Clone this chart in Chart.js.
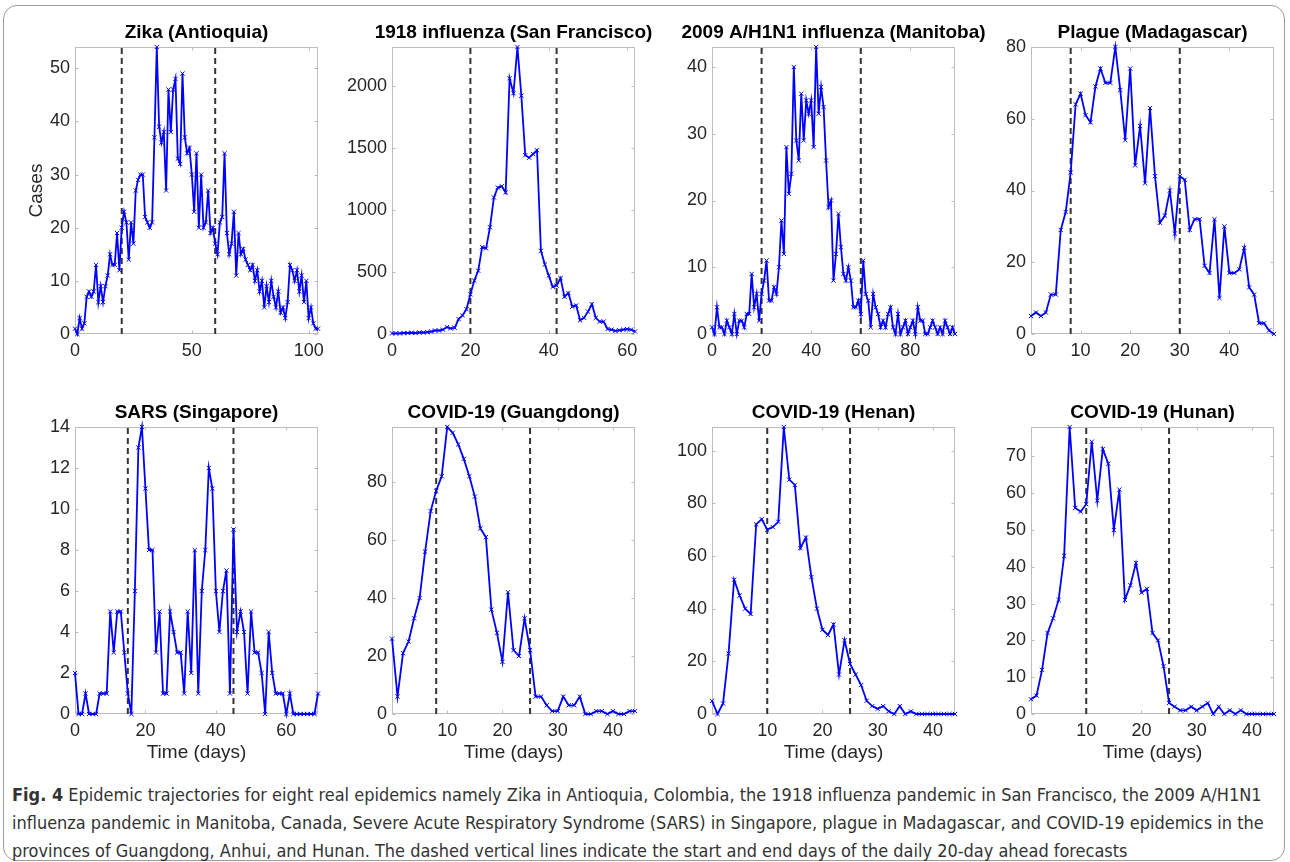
<!DOCTYPE html>
<html>
<head>
<meta charset="utf-8">
<script src="https://cdn.jsdelivr.net/npm/chart.js@4.4.1/dist/chart.umd.min.js"></script>
<style>
  html, body { margin: 0; padding: 0; background: #fff; }
  body { width: 1290px; height: 862px; position: relative; overflow: hidden; font-family: "Liberation Sans", Arial, sans-serif; }
  #frame { position: absolute; left: 3px; top: 5px; width: 1282px; height: 856px; border: 1px solid #9c9c9c; border-radius: 14px; box-sizing: border-box; }
  canvas { position: absolute; }
  .cap { position: absolute; left: 12px; white-space: nowrap; font-family: "Liberation Sans Narrow", "DejaVu Sans Condensed", "Liberation Sans", sans-serif; font-size: 17px; line-height: 20px; color: #333; transform-origin: 0 50%; }
</style>
</head>
<body>
<div id="frame"></div>

<div class="cap" style="top:785px"><b>Fig. 4</b> Epidemic trajectories for eight real epidemics namely Zika in Antioquia, Colombia, the 1918 influenza pandemic in San Francisco, the 2009 A/H1N1</div>
<div class="cap" style="top:813px">influenza pandemic in Manitoba, Canada, Severe Acute Respiratory Syndrome (SARS) in Singapore, plague in Madagascar, and COVID-19 epidemics in the</div>
<div class="cap" style="top:841px">provinces of Guangdong, Anhui, and Hunan. The dashed vertical lines indicate the start and end days of the daily 20-day ahead forecasts</div>

<script>
"use strict";

// --- daily case counts, day 0 onwards ---
const zikaCases = [1,0,3,1,2,7,8,7,8,13, 6,9,6,9,11,15,13,13,19,12, 20,23,21,14,21,17,27,29,30,30,
    22,21,20,21,37,54,39,36,38,27, 46,38,46,48,33,32,49,37,34,35, 30,23,34,20,30,20,21,27,19,20,
    17,15,21,22,34,19,15,17,23,11, 19,15,16,14,13,12,13,10,12,8, 10,5,9,6,10,7,5,8,4,5,
    3,6,13,12,10,12,8,11,6,10, 3,5,2,1,1];
const sfCases = [5,5,5,8,8,10,8,12,12,15, 20,28,28,35,55,45,50,120,150,200, 320,430,510,700,690,860,1100,1180,1190,1140,
    2060,1940,2312,1920,1440,1420,1450,1480,670,560, 470,380,390,450,300,330,220,230,110,130,
    180,240,130,100,100,40,35,25,30,35, 40,35,20];
const manitobaCases = [1,0,4,1,1,0,2,1,0,3, 0,2,2,1,3,3,9,4,6,2, 6,8,11,5,5,7,6,10,17,12,
    28,21,24,40,29,26,36,29,35,33, 35,28,43,33,37,34,26,19,20,8, 12,18,13,9,8,10,8,4,4,5,
    3,11,6,5,1,6,4,3,1,2, 1,3,4,1,0,3,0,1,2,0, 1,2,0,4,2,2,0,0,1,2, 1,0,1,0,2,1,0,1,0];
const plagueCases = [5,6,5,6,11,11,29,34,45,64, 67,61,59,69,74,70,70,80,68,54, 74,47,58,42,63,44,31,33,40,28,
    44,43,29,32,32,19,17,32,10,30, 17,17,18,24,13,11,3,3,1,0];
const sarsCases = [2,0,0,1,0,0,0,1,1,1, 5,3,5,5,3,1,0,6,13,14, 11,8,8,3,5,1,1,5,4,3,
    3,1,5,2,8,1,6,8,12,11, 6,4,6,7,1,9,4,5,4,1, 5,3,3,2,0,4,2,1,1,1, 0,1,0,0,0,0,0,0,0,1];
const guangdongCases = [26,6,21,25,33,40,56,70,77,82, 99,97,93,88,82,75,64,61,36,28,
    18,42,22,20,33,22,6,6,3,1, 1,6,3,3,6,0,0,1,1,0, 1,0,0,1,1];
const henanCases = [5,0,4,23,51,45,40,38,72,74, 70,71,73,109,89,87,63,67,52,40,
    32,30,34,15,28,19,15,11,5,3, 2,3,1,0,3,0,1,0,0,0, 0,0,0,0,0];
const hunanCases = [4,5,12,22,26,31,43,78,56,55, 57,74,58,72,68,50,61,31,35,41,
    33,34,22,20,13,3,2,1,1,2, 1,2,3,0,2,0,1,0,1,0, 0,0,0,0,0];

// --- panel titles, forecast windows (start/end day), axis limits and ticks ---
const titles = ["Zika (Antioquia)", "1918 influenza (San Francisco)", "2009 A/H1N1 influenza (Manitoba)", "Plague (Madagascar)",
    "SARS (Singapore)", "COVID-19 (Guangdong)", "COVID-19 (Henan)", "COVID-19 (Hunan)"];
const forecastWindows = [[20, 60], [20, 42], [20, 60], [8, 30], [15, 45], [8, 25], [10, 25], [10, 25]];
const xMaxes = [104, 62, 98, 49, 69, 44, 44, 44];
const yMaxes = [54, 2312, 43, 80, 14, 99, 109, 78];
const xTicks = [
    [0, 50, 100], [0, 20, 40, 60], [0, 20, 40, 60, 80], [0, 10, 20, 30, 40],
    [0, 20, 40, 60], [0, 10, 20, 30, 40], [0, 10, 20, 30, 40], [0, 10, 20, 30, 40]
];
const yTicks = [
    [0, 10, 20, 30, 40, 50], [0, 500, 1000, 1500, 2000], [0, 10, 20, 30, 40], [0, 20, 40, 60, 80],
    [0, 2, 4, 6, 8, 10, 12, 14], [0, 20, 40, 60, 80], [0, 20, 40, 60, 80, 100], [0, 10, 20, 30, 40, 50, 60, 70]
];
const series = [zikaCases, sfCases, manitobaCases, plagueCases, sarsCases, guangdongCases, henanCases, hunanCases];

const FONT = '"Liberation Sans", Arial, Helvetica, sans-serif';
const COL_LEFTS = [15, 332, 652, 971];
const ROW_TOPS = [16, 396];
const PLOT_W = 243, Y_AXIS_W = 60, RIGHT_PAD = 54;

// box, inward ticks and bold title, MATLAB style
const matlabAxes = {
    id: "matlabAxes",
    beforeDatasetsDraw(chart, args, opts) {
        const { ctx, chartArea: a, scales } = chart;
        const L = Math.round(a.left) + 0.5, R = Math.round(a.right) - 0.5;
        const T = Math.round(a.top) + 0.5, B = Math.round(a.bottom) - 0.5;
        ctx.save();
        ctx.strokeStyle = "#bdbdbd";
        ctx.lineWidth = 1;
        ctx.strokeRect(L, T, R - L, B - T);
        ctx.beginPath();
        scales.x.ticks.forEach(t => {
            const px = Math.round(scales.x.getPixelForValue(t.value)) + 0.5;
            ctx.moveTo(px, B); ctx.lineTo(px, B - 3);
            ctx.moveTo(px, T); ctx.lineTo(px, T + 3);
        });
        scales.y.ticks.forEach(t => {
            const py = Math.round(scales.y.getPixelForValue(t.value)) + 0.5;
            ctx.moveTo(L, py); ctx.lineTo(L + 3, py);
            ctx.moveTo(R, py); ctx.lineTo(R - 3, py);
        });
        ctx.stroke();
        ctx.restore();
    },
    afterDraw(chart, args, opts) {
        const { ctx, chartArea: a } = chart;
        ctx.save();
        ctx.font = "bold 19px " + FONT;
        ctx.fillStyle = "#000";
        ctx.textAlign = "center";
        ctx.textBaseline = "middle";
        ctx.fillText(opts.text, (a.left + a.right) / 2, a.top - 14);
        ctx.restore();
    }
};

series.forEach((cases, i) => {
    const row = i < 4 ? 0 : 1;
    const col = i % 4;
    const xAxisH = row === 0 ? 28 : 50;
    const canvas = document.createElement("canvas");
    canvas.width = Y_AXIS_W + PLOT_W + RIGHT_PAD;
    canvas.height = 31 + 287 + xAxisH;
    canvas.style.left = COL_LEFTS[col] + "px";
    canvas.style.top = ROW_TOPS[row] + "px";
    document.body.appendChild(canvas);

    const [start, end] = forecastWindows[i];
    const dashed = d => ({
        data: [{ x: d, y: 0 }, { x: d, y: yMaxes[i] }],
        borderColor: "#333",
        borderWidth: 2,
        borderDash: [6, 4],
        pointRadius: 0,
        order: 1
    });

    new Chart(canvas, {
        type: "line",
        data: {
            datasets: [{
                data: cases.map((v, d) => ({ x: d, y: v })),
                borderColor: "#0000ff",
                borderWidth: 1.8,
                pointStyle: "crossRot",
                pointRadius: 3,
                pointBorderColor: "#0000ff",
                pointBackgroundColor: "#0000ff",
                pointBorderWidth: 1,
                tension: 0,
                clip: 6,
                order: 0
            }, dashed(start), dashed(end)]
        },
        options: {
            responsive: false,
            animation: false,
            layout: { padding: { top: 31, right: RIGHT_PAD, left: 0, bottom: 0 } },
            plugins: {
                legend: { display: false },
                tooltip: { enabled: false },
                matlabAxes: { text: titles[i] }
            },
            scales: {
                x: {
                    type: "linear",
                    min: 0,
                    max: xMaxes[i],
                    grid: { display: false, drawTicks: false },
                    border: { display: false },
                    ticks: { color: "#262626", font: { size: 18, family: FONT }, padding: 6, maxRotation: 0, autoSkip: false,
                             callback: v => String(v) },
                    afterBuildTicks: s => { s.ticks = xTicks[i].map(v => ({ value: v })); },
                    afterFit: s => { s.height = xAxisH; },
                    title: {
                        display: row === 1,
                        text: "Time (days)",
                        color: "#262626",
                        font: { size: 19, family: FONT },
                        padding: { top: 0, bottom: 0 }
                    }
                },
                y: {
                    type: "linear",
                    min: 0,
                    max: yMaxes[i],
                    grid: { display: false, drawTicks: false },
                    border: { display: false },
                    ticks: { color: "#262626", font: { size: 18, family: FONT }, padding: 5, autoSkip: false,
                             callback: v => String(v) },
                    afterBuildTicks: s => { s.ticks = yTicks[i].map(v => ({ value: v })); },
                    afterFit: s => { s.width = Y_AXIS_W; },
                    title: {
                        display: i === 0,
                        text: "Cases",
                        color: "#262626",
                        font: { size: 19, family: FONT },
                        padding: { top: 10, bottom: 0 }
                    }
                }
            }
        },
        plugins: [matlabAxes]
    });
});

// squeeze the caption with one factor so its first line ends where it wraps in the figure
const capLines = document.querySelectorAll(".cap");
const capScale = 1250 / capLines[0].scrollWidth;
capLines.forEach(el => { el.style.transform = "scaleX(" + capScale + ")"; });
</script>
</body>
</html>
